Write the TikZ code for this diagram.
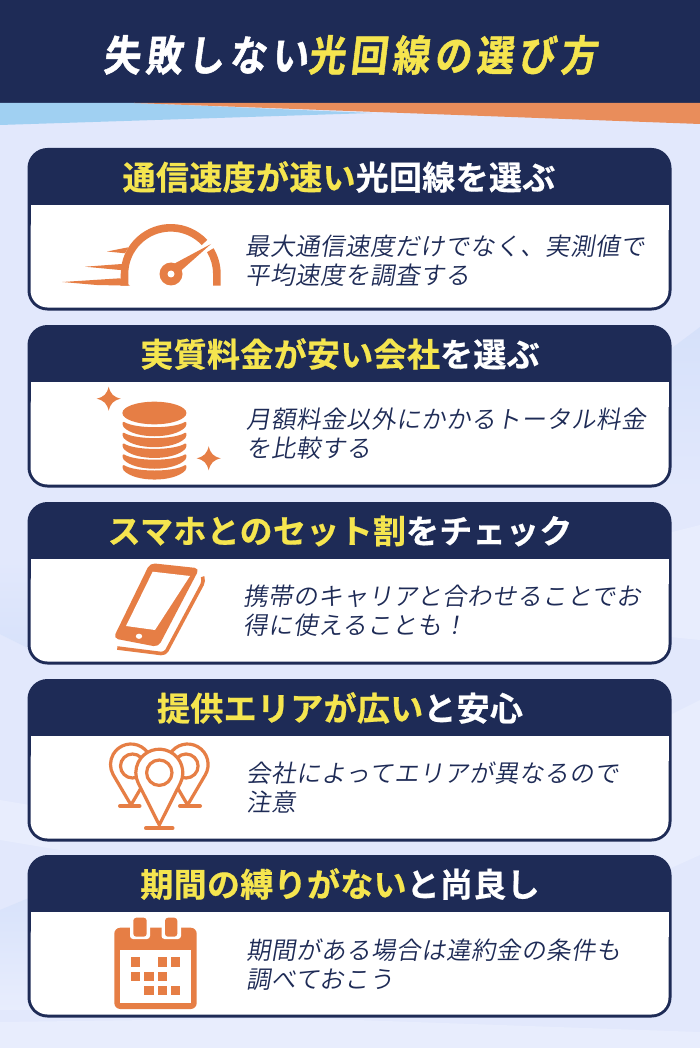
\documentclass[tikz,border=0pt]{standalone}
\usepackage{fontspec}
\usetikzlibrary{calc}
\newfontfamily\titlef[FakeSlant=0.12,FakeStretch=0.88,LetterSpace=12,FakeBold=1.2]{Noto Sans CJK JP Bold}
\newfontfamily\headf[FakeBold=0.6,LetterSpace=1]{Noto Sans CJK JP Bold}
\newfontfamily\bodyf[FakeSlant=0.17,LetterSpace=2]{Noto Sans CJK JP DemiLight}
\definecolor{navy}{HTML}{1E2B56}
\definecolor{gold}{HTML}{F5E54F}
\definecolor{icon}{HTML}{E67E45}
\definecolor{bgbase}{HTML}{E2E8FC}
\definecolor{bgdark}{HTML}{D6E1FA}
\definecolor{bglight}{HTML}{E8EDFD}
\definecolor{skyw}{HTML}{A0D0F2}
\definecolor{orng}{HTML}{E98D5B}
\tikzset{
  headtext/.style={anchor=center,inner sep=0pt,font=\headf\fontsize{33}{33}\selectfont,text=white},
  bodytext/.style={anchor=west,inner sep=0pt,align=left,font=\bodyf\fontsize{24.5}{29}\selectfont,text=navy},
  titletext/.style={anchor=center,inner sep=0pt,font=\titlef\fontsize{42}{42}\selectfont,text=white},
  pinline/.style={draw=icon,line width=3.2pt,line join=round,fill=white},
  pinbase/.style={draw=icon,line width=4pt,line cap=round},
}
\newcommand{\cardbox}[3]{%
  \fill[navy,rounded corners=20pt] (27.5,#1) rectangle (671.5,#3);
  \fill[white,rounded corners=17pt] (30.5,#2+6) rectangle (668.5,#3-3);
  \fill[white] (30.5,#2) rectangle (668.5,#2+25);
}
\newcommand{\starshape}[3]{%
  \fill[icon] (#1,#2-#3) .. controls (#1+2,#2-4.5) and (#1+4.5,#2-2) .. (#1+#3,#2)
   .. controls (#1+4.5,#2+2) and (#1+2,#2+4.5) .. (#1,#2+#3)
   .. controls (#1-2,#2+4.5) and (#1-4.5,#2+2) .. (#1-#3,#2)
   .. controls (#1-4.5,#2-2) and (#1-2,#2-4.5) .. (#1,#2-#3) -- cycle;
}
\newcommand{\coinband}[1]{%
  \fill[icon,rounded corners=1.5pt] (122.6,#1) .. controls (135,#1+8) and (174,#1+8) .. (186.4,#1)
   -- (186.4,#1+5) .. controls (174,#1+18.3) and (135,#1+18.3) .. (122.6,#1+5) -- cycle;
}
\begin{document}
\begin{tikzpicture}[x=1pt,y=-1pt]
\useasboundingbox (0,0) rectangle (700,1048);
% background
\fill[bgbase] (0,0) rectangle (700,1048);
\shade[top color=bgdark,bottom color=bgbase] (640,372) -- (700,327) -- (700,490) -- (640,490) -- cycle;
\fill[bglight] (640,540) -- (700,525) -- (700,640) -- (640,634) -- cycle;
\fill[bglight] (640,730) -- (700,700) -- (700,855) -- (640,882) -- cycle;
\shade[top color=bgbase,bottom color=bgdark] (0,560) -- (60,565) -- (60,664) -- (0,634) -- cycle;
\fill[bglight] (0,800) -- (60,810) -- (60,850) -- (0,840) -- cycle;
\shade[top color=bgdark,bottom color=bglight] (0,910) -- (60,885) -- (60,1010) -- (0,1010) -- cycle;
\fill[bglight] (0,1048) -- (0,1022) -- (300,1018) -- (700,1032) -- (700,1048) -- cycle;
% header
\fill[navy] (0,0) rectangle (700,103);
\fill[skyw] (0,103) -- (135,103) -- (372,113) -- (0,125) -- cycle;
\fill[orng] (134,103) -- (700,103) -- (700,124) -- cycle;
\node[titletext] (title) at (350,55) {失敗しない\textcolor{gold}{光回線の選び方}};
% cards
\cardbox{148}{205}{310.5}
\cardbox{325}{382}{487.5}
\cardbox{502}{559}{664.5}
\cardbox{679}{736}{841.5}
\cardbox{855}{912}{1017.5}
% headings
\node[headtext] (h1) at (339,177) {\textcolor{gold}{通信速度が速い}光回線を選ぶ};
\node[headtext] (h2) at (340,354) {\textcolor{gold}{実質料金が安い会社}を選ぶ};
\node[headtext] (h3) at (340,531) {\textcolor{gold}{スマホとのセット割}をチェック};
\node[headtext] (h4) at (340,708) {\textcolor{gold}{提供エリアが広い}と安心};
\node[headtext] (h5) at (340,884) {\textcolor{gold}{期間の縛りがない}と尚良し};
% body
\node[bodytext] (b1) at (245,261) {最大通信速度だけでなく、実測値で\\平均速度を調査する};
\node[bodytext] (b2) at (246,434) {月額料金以外にかかるトータル料金\\を比較する};
\node[bodytext] (b3) at (243,611) {携帯のキャリアと合わせることでお\\得に使えることも！};
\node[bodytext] (b4) at (246,788) {会社によってエリアが異なるので\\注意};
\node[bodytext] (b5) at (246,965) {期間がある場合は違約金の条件も\\調べておこう};
% gauge
\fill[icon] (128.3,285.7) -- (128.3,274) arc[start angle=180,end angle=317,radius=42.4]
  -- (207.3,239.9) arc[start angle=317,end angle=180,radius=50] -- (120.7,285.7) -- cycle;
\fill[icon] (207,252.2) arc[start angle=329,end angle=360,radius=42.4] -- (213.1,285.7) -- (220.7,285.7) -- (220.7,274)
  arc[start angle=360,end angle=329,radius=50] -- cycle;
\fill[icon] (107,251.5) -- (128.3,247.3) -- (125,253.3) -- cycle;
\fill[icon] (85,266.7) -- (121.7,264) -- (124,270) -- (120,270) -- cycle;
\fill[icon] (62.3,282) -- (120,278.3) -- (130,285.7) -- (96.7,285) -- cycle;
\fill[icon] (171,274) circle[radius=11.5];
\fill[icon] (175,263.3) -- (211,244) -- (181.7,270) -- cycle;
\fill[white] (171,274) circle[radius=3.5];
% coins
\fill[icon] (154.4,413) ellipse[x radius=32,y radius=11.3];
\coinband{421}\coinband{431.9}\coinband{442.7}\coinband{453.5}\coinband{464.3}
\starshape{108.7}{398.7}{12}
\starshape{208.7}{458.3}{12}
% phone
\draw[icon,line width=3.6pt,line join=round,rounded corners=4pt] (202.5,576.7) -- (204,581) -- (165,654) -- (117.3,648);
\fill[icon,rounded corners=5pt] (150,563) -- (199.5,568.3) -- (158.3,647) -- (113.3,638.3) -- cycle;
\fill[white] (152.7,571.7) -- (190,576) -- (155,630) -- (126,626) -- cycle;
\fill[white] (139,636.3) ellipse[x radius=3.2,y radius=2.6];
% pins
\draw[pinline] (131,764.5) ++(30.4:20.5) arc[start angle=30.4,end angle=-209.6,radius=20.5] -- (131,805) -- cycle;
\draw[pinline] (187.6,764.5) ++(30.4:20.5) arc[start angle=30.4,end angle=-209.6,radius=20.5] -- (187.6,805) -- cycle;
\draw[pinline] (132.5,766) circle[radius=12];
\draw[pinline] (186.1,766) circle[radius=12];
\draw[pinbase] (120,806) -- (139.5,806);
\draw[pinbase] (180,806) -- (200,806);
\draw[pinline] (159.3,772.7) ++(26.7:23.5) arc[start angle=26.7,end angle=-206.7,radius=23.5] -- (159.3,825) -- cycle;
\draw[pinline] (159.3,772.7) circle[radius=12.7];
\draw[pinbase] (146,828.3) -- (172.5,828.3);
% calendar
\fill[icon,rounded corners=6pt] (114.3,927.7) rectangle (196.7,1009);
\fill[white] (120,950) rectangle (191,1002.7);
\fill[white,rounded corners=3pt] (130,920) rectangle (150,939);
\fill[white,rounded corners=3pt] (161.5,920) rectangle (181,939);
\fill[icon,rounded corners=3pt] (133.3,917.7) rectangle (146.7,936.7);
\fill[icon,rounded corners=3pt] (165,917.7) rectangle (177.3,936.7);
\foreach \cx/\cy in {131/957.3,157.7/957.3,171/957.3,131/971.7,144.3/971.7,157.7/971.7,144.3/985.7,157.7/985.7,171/985.7}
  \fill[icon] (\cx,\cy) rectangle ++(9.3,9.3);
\end{tikzpicture}
\end{document}
